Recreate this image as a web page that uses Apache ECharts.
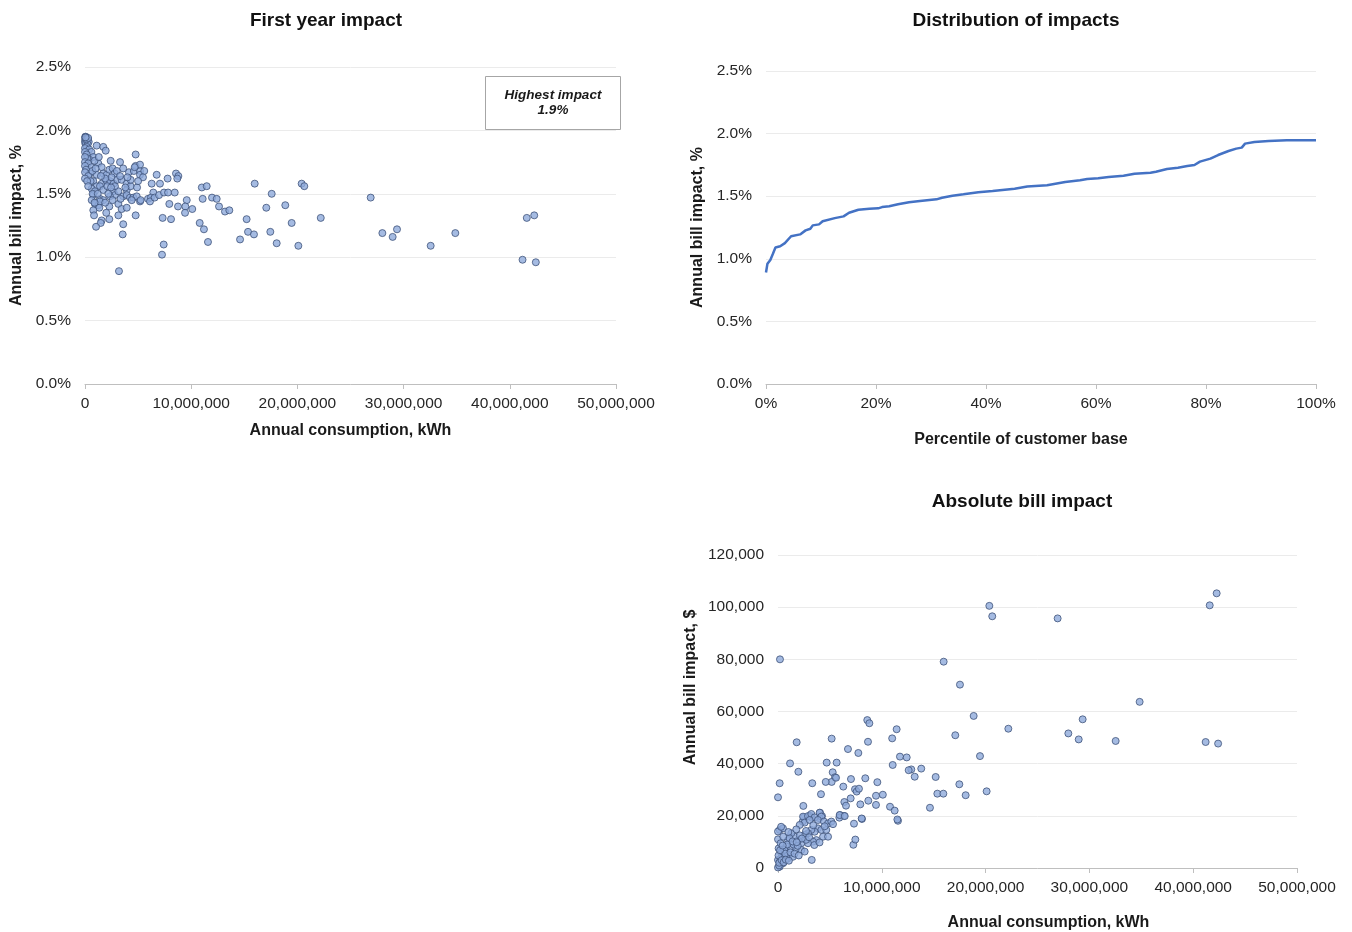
<!DOCTYPE html>
<html>
<head>
<meta charset="utf-8">
<title>Bill impact</title>
<script src="https://cdn.jsdelivr.net/npm/echarts@6/dist/echarts.min.js"></script>
<style>
  html, body { margin: 0; padding: 0; background: #ffffff; }
  #chart { width: 1352px; height: 932px; }
</style>
</head>
<body>
<div id="chart"></div>
<script>
// Annual consumption is kept in GWh (millions of kWh); axis labels show kWh.

// First year impact: [consumption GWh, annual bill impact %]
const firstYearImpact = [
  [0.02,1.95],[0.08,1.95],[0.12,1.94],[0.03,1.94],[0.18,1.94],[0.06,1.93],[0.22,1.93],[0.01,1.92],[0.14,1.92],[0.28,1.92],
  [0.04,1.91],[0.10,1.91],[0.20,1.90],[0.02,1.90],[0.35,1.91],[0.08,1.89],[0.25,1.89],[0.15,1.93],[0.30,1.94],[0.05,1.945],
  [0.16,1.87],[1.10,1.88],[1.72,1.87],[1.95,1.84],[0.00,1.86],[0.40,1.85],[0.60,1.83],[0.00,1.83],[0.16,1.81],[0.78,1.79],
  [0.40,1.77],[0.20,1.78],[0.00,1.79],[1.25,1.74],[0.00,1.75],[0.30,1.74],[0.63,1.71],[1.57,1.71],[2.42,1.76],[3.30,1.75],
  [4.77,1.81],[0.90,1.76],[1.30,1.79],[0.00,1.72],[0.10,1.69],[0.47,1.66],[1.10,1.65],[1.72,1.66],[2.04,1.65],[2.29,1.69],
  [0.00,1.67],[0.31,1.64],[0.00,1.62],[0.78,1.60],[0.53,1.60],[0.20,1.60],[1.57,1.58],[2.04,1.60],[2.35,1.60],[1.10,1.56],
  [1.41,1.56],[0.63,1.54],[0.30,1.56],[1.72,1.53],[0.94,1.52],[0.78,1.49],[0.72,1.50],[1.41,1.46],[1.72,1.45],[0.63,1.45],
  [0.94,1.42],[1.25,1.41],[1.41,1.44],[1.35,1.39],[0.78,1.37],[0.85,1.33],[2.29,1.30],[1.57,1.29],[1.48,1.27],[1.04,1.24],
  [0.90,1.43],[1.20,1.50],[2.60,1.70],[2.80,1.66],[3.00,1.68],[2.50,1.63],[2.70,1.58],[1.90,1.62],[0.70,1.68],[1.00,1.70],
  [1.50,1.64],[2.10,1.56],
  [2.67,1.52],[2.82,1.49],[2.35,1.48],[3.14,1.52],[3.93,1.53],[2.82,1.56],[3.04,1.61],[3.45,1.61],[3.93,1.58],[4.30,1.56],
  [4.30,1.61],[4.14,1.67],[4.60,1.68],[5.18,1.68],[5.18,1.65],[5.58,1.68],[4.77,1.72],[5.18,1.73],[4.68,1.71],[5.46,1.63],
  [3.60,1.48],[3.93,1.49],[4.24,1.47],[4.55,1.47],[4.87,1.48],[5.18,1.44],[4.40,1.45],[2.29,1.40],[3.14,1.42],[3.45,1.38],
  [3.93,1.39],[4.77,1.33],[3.14,1.33],[3.60,1.26],[3.55,1.18],[3.20,0.89],[3.30,1.64],[3.60,1.70],[2.20,1.50],[1.90,1.43],
  [2.60,1.45],[3.80,1.55],[4.00,1.63],[4.90,1.55],[5.00,1.60],[2.45,1.55],[3.35,1.46],[2.00,1.35],[5.24,1.45],[5.93,1.46],
  [6.75,1.65],[6.28,1.58],[7.06,1.58],[7.78,1.62],[8.57,1.66],[8.79,1.64],[8.69,1.62],[6.43,1.51],[6.21,1.47],[6.12,1.44],
  [6.56,1.47],[6.97,1.49],[7.44,1.51],[7.82,1.51],[8.45,1.51],[7.94,1.42],[8.76,1.40],[9.58,1.45],[9.45,1.40],[9.42,1.35],
  [10.10,1.38],[7.31,1.31],[8.10,1.30],[11.00,1.55],[11.46,1.56],[11.08,1.46],[11.96,1.47],[12.40,1.46],[12.62,1.40],[13.18,1.36],
  [13.59,1.37],[10.80,1.27],[11.20,1.22],[11.58,1.12],[7.41,1.10],[7.25,1.02],[15.98,1.58],[17.58,1.50],[17.07,1.39],[18.86,1.41],
  [15.22,1.30],[15.35,1.20],[15.91,1.18],[14.60,1.14],[17.45,1.20],[18.05,1.11],[19.46,1.27],[20.40,1.58],[20.65,1.56],[20.09,1.09],
  [22.20,1.31],[26.90,1.47],[28.00,1.19],[28.97,1.16],[29.38,1.22],[32.55,1.09],[34.87,1.19],[41.60,1.31],[42.30,1.33],[41.20,0.98],
  [42.45,0.96]
];

// Distribution of impacts: [percentile of customer base %, annual bill impact %]
const impactDistribution = [
  [0,0.89],[0.26,0.96],[0.79,0.99],[1.26,1.04],[1.72,1.09],[2.58,1.10],[3.43,1.125],[4.56,1.18],[6.2,1.195],[7.2,1.227],
  [8.06,1.24],[8.5,1.267],[9.64,1.275],[10.3,1.30],[12.5,1.325],[14.1,1.339],[15.1,1.368],[16.8,1.392],[18.8,1.40],[20.4,1.403],
  [21.1,1.413],[22.4,1.419],[24.0,1.435],[26.0,1.451],[28.0,1.461],[31.0,1.475],[32.0,1.488],[33.9,1.504],[35.9,1.515],[38.6,1.531],
  [41.2,1.541],[45.2,1.56],[47.5,1.577],[51.1,1.587],[54.4,1.613],[57.1,1.627],[58.4,1.637],[60.4,1.643],[62.3,1.653],[65.0,1.664],
  [67.0,1.68],[69.9,1.688],[70.9,1.696],[72.9,1.717],[74.9,1.728],[76.6,1.741],[77.9,1.749],[78.9,1.776],[80.8,1.80],[82.2,1.829],
  [84.1,1.861],[85.5,1.88],[86.5,1.888],[87.1,1.92],[88.8,1.933],[91.4,1.941],[94.7,1.947],[100,1.947]
];

// Absolute bill impact: [consumption GWh, annual bill impact $]
const absoluteImpact = [
  [20.36,100500],[20.64,96500],[26.94,95700],[41.59,100700],[42.26,105300],[15.96,79100],[17.53,70300],[18.85,58300],[17.08,50900],[22.19,53400],
  [19.46,42900],[29.35,57000],[27.97,51600],[28.97,49300],[32.53,48700],[34.84,63700],[41.20,48300],[42.40,47700],[11.75,42700],[12.40,42400],
  [12.84,37800],[13.80,38100],[8.60,56700],[8.80,55500],[11.43,53200],[11.00,49700],[1.80,48200],[5.17,49600],[6.74,45600],[8.67,48400],
  [7.74,44100],[1.16,40100],[4.69,40400],[5.65,40400],[11.05,39500],[1.96,36900],[5.27,36700],[5.49,34800],[5.17,33000],[5.59,34600],
  [3.30,32500],[4.60,33000],[6.29,31200],[7.03,34100],[8.41,34400],[9.57,32900],[12.59,37500],[13.17,35000],[15.19,34900],[17.47,32100],
  [0.00,27100],[0.16,32500],[4.14,28300],[6.39,25300],[6.55,23900],[7.42,30200],[7.58,29300],[7.80,30400],[9.44,27700],[10.10,28100],
  [7.93,24400],[8.70,25800],[9.44,24200],[10.79,23500],[11.24,22000],[11.56,18100],[14.64,23100],[15.35,28500],[15.93,28500],[18.08,27900],
  [20.10,29400],[2.44,23800],[7.32,17000],[8.09,18800],[7.26,8900],[7.45,10900],[3.25,3100],[2.50,19400],[2.38,17800],[0.19,80000],
  [7.00,26700],[3.08,20000],[3.25,19300],[4.05,21200],[4.24,19900],[3.98,19100],[5.97,20300],[6.36,20000],[5.91,19300],[8.06,19000],
  [11.50,18600],[0.16,14600],[0.00,11000],[0.06,7500],[0.48,15200],[2.41,19700],[2.57,17400],[2.89,19900],[3.21,20700],[3.53,19400],
  [4.01,21200],[4.17,19700],[3.85,18400],[4.43,17800],[4.82,17100],[5.14,17800],[5.30,16800],[3.85,15200],[4.17,14600],[3.53,13900],
  [3.21,14600],[2.89,13300],[2.57,12700],[4.34,12000],[3.69,10700],[3.37,10100],[2.89,9500],[2.25,9500],[1.93,10700],[1.61,12000],
  [1.28,13300],[0.96,10700],[0.80,8200],[1.28,7500],[1.76,7500],[2.25,6900],[2.57,6300],[0.32,5600],[0.64,4300],[0.96,3700],
  [0.00,3100],[0.48,1800],[0.16,500],[0.00,200],[0.96,5000],[1.44,4300],[4.65,14600],[4.82,12000],[3.05,18400],[2.09,16500],
  [1.76,14800],[5.94,20300],[6.43,19900],[0.10,1000],[0.20,2500],[0.30,3800],[0.05,4800],[0.40,6500],[0.60,7000],[0.70,5500],
  [0.90,9000],[1.10,11500],[1.20,6000],[1.50,9000],[1.90,8500],[2.10,12500],[2.70,10800],[3.00,11800],[0.25,9500],[0.50,12000],
  [1.00,13800],[0.12,2000],[0.35,3000],[0.55,2200],[0.75,3200],[1.05,2800],[0.20,6800],[0.45,8600],[1.60,5500],[2.00,4800],
  [3.50,8800],[4.00,9800],[4.50,16000],[0.00,14000],[0.30,15800],[1.40,10200],[2.30,11300],[2.70,14200],[3.40,16400],[1.80,9900]
];

// Tick settings
const pctTicks = { min: 0, max: 2.5, interval: 0.5 };
const kwhTicks = { min: 0, max: 50, interval: 10 };
const percentileTicks = { min: 0, max: 100, interval: 20 };
const dollarTicks = { min: 0, max: 120000, interval: 20000 };

const font = 'Liberation Sans, Arial, sans-serif';
const labelColor = '#262626';
const gridColor = '#ebebeb';
const axisColor = '#bfbfbf';

const kwhLabel = v => (v * 1000000).toLocaleString('en-US');
const pctLabel = v => v.toFixed(1) + '%';

function xAxisBase(gridIndex, ticks, name, gap, formatter, namePadding) {
  return {
    type: 'value', gridIndex,
    min: ticks.min, max: ticks.max, interval: ticks.interval,
    name, nameLocation: 'middle', nameGap: gap,
    nameTextStyle: { fontFamily: font, fontWeight: 'bold', fontSize: 16, color: '#1a1a1a',
                     padding: namePadding || 0 },
    axisLine: { show: true, lineStyle: { color: axisColor, width: 1 } },
    axisTick: { show: true, length: 5, lineStyle: { color: axisColor } },
    axisLabel: { fontFamily: font, fontSize: 15.5, color: labelColor, margin: 12, formatter },
    splitLine: { show: false }
  };
}

function yAxisBase(gridIndex, ticks, name, gap, formatter, namePadding) {
  return {
    type: 'value', gridIndex,
    min: ticks.min, max: ticks.max, interval: ticks.interval,
    name, nameLocation: 'middle', nameGap: gap,
    nameTextStyle: { fontFamily: font, fontWeight: 'bold', fontSize: 16, color: '#1a1a1a',
                     padding: namePadding || 0 },
    axisLine: { show: false },
    axisTick: { show: false },
    axisLabel: { fontFamily: font, fontSize: 15.5, color: labelColor, margin: 14, formatter },
    splitLine: { show: true, lineStyle: { color: gridColor, width: 1 } }
  };
}

const dotStyle = { color: '#8eaadb', borderColor: '#3e5379', borderWidth: 1 };
const titleStyle = { fontFamily: font, fontWeight: 'bold', fontSize: 19, color: '#111111' };

const chart = echarts.init(document.getElementById('chart'), null, { renderer: 'canvas' });

chart.setOption({
  backgroundColor: '#ffffff',
  animation: false,
  title: [
    { text: 'First year impact', left: 321, top: 6, textAlign: 'center', textStyle: titleStyle },
    { text: 'Distribution of impacts', left: 1011, top: 6, textAlign: 'center', textStyle: titleStyle },
    { text: 'Absolute bill impact', left: 1017, top: 487, textAlign: 'center', textStyle: titleStyle }
  ],
  grid: [
    { left: 85, right: 736, top: 67, bottom: 548 },
    { left: 766, right: 36, top: 71, bottom: 548 },
    { left: 778, right: 55, top: 555, bottom: 64 }
  ],
  xAxis: [
    xAxisBase(0, kwhTicks, 'Annual consumption, kWh', 39, kwhLabel),
    xAxisBase(1, percentileTicks, 'Percentile of customer base', 48, v => v + '%', [0, 40, 0, 0]),
    xAxisBase(2, kwhTicks, 'Annual consumption, kWh', 47, kwhLabel, [0, 0, 0, 22])
  ],
  yAxis: [
    yAxisBase(0, pctTicks, 'Annual bill impact, %', 60, pctLabel),
    yAxisBase(1, pctTicks, 'Annual bill impact, %', 60, pctLabel),
    yAxisBase(2, dollarTicks, 'Annual bill impact, $', 79, v => v.toLocaleString('en-US'), [0, 0, 0, 48])
  ],
  series: [
    {
      type: 'scatter', xAxisIndex: 0, yAxisIndex: 0,
      data: firstYearImpact, symbol: 'circle', symbolSize: 7,
      itemStyle: dotStyle, clip: false
    },
    {
      type: 'line', xAxisIndex: 1, yAxisIndex: 1,
      data: impactDistribution, showSymbol: false, smooth: false,
      lineStyle: { color: '#4472c4', width: 2.5 }
    },
    {
      type: 'scatter', xAxisIndex: 2, yAxisIndex: 2,
      data: absoluteImpact, symbol: 'circle', symbolSize: 7,
      itemStyle: dotStyle, clip: false
    }
  ],
  graphic: [
    {
      type: 'group', left: 485, top: 76, z: 100,
      children: [
        { type: 'rect', shape: { x: 0.5, y: 0.5, width: 135, height: 53 },
          style: { fill: '#ffffff', stroke: '#a6a6a6', lineWidth: 1 } },
        { type: 'text', x: 68, y: 27,
          style: { text: 'Highest impact\n' + Math.max(...firstYearImpact.map(d => d[1])).toFixed(1) + '%',
                   align: 'center', verticalAlign: 'middle',
                   font: 'italic bold 13.5px ' + font, fill: '#1a1a1a', lineHeight: 15 } }
      ]
    }
  ]
});
</script>
</body>
</html>
